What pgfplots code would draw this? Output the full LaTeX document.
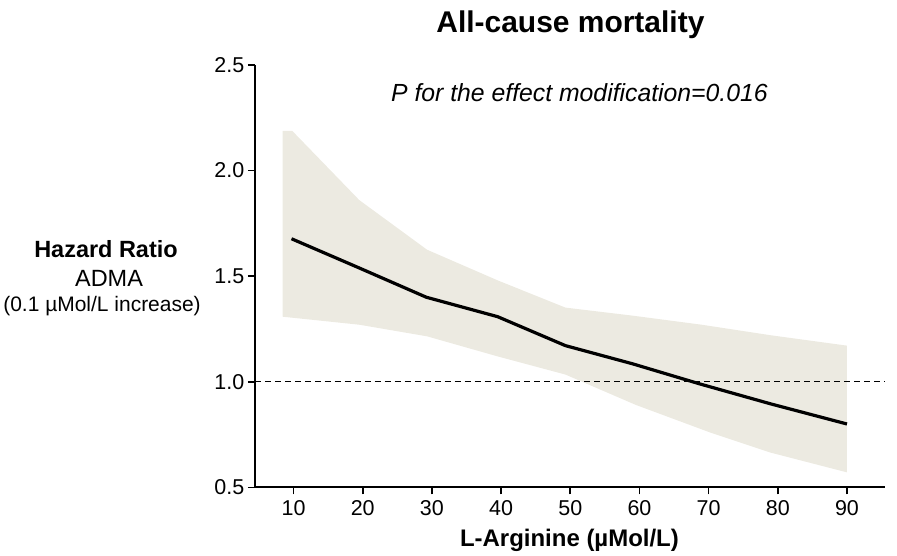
\documentclass[border=0pt]{standalone}
\usepackage{pgfplots}
\pgfplotsset{compat=1.18}
\usepackage{fontspec}
\setmainfont{Liberation Sans}
\definecolor{ribbon}{RGB}{236,234,225}
\begin{document}
\begin{tikzpicture}
\begin{axis}[
  at={(0pt,0pt)}, anchor=south west,
  scale only axis,
  width=631pt, height=423pt,
  xmin=4.4, xmax=95.5,
  ymin=0.5, ymax=2.5,
  axis lines=left,
  axis line style={-, line width=1.8pt},
  tick align=outside,
  major tick length=7pt,
  tick style={line width=1.6pt, black},
  xtick={10,20,...,90},
  ytick={0.5,1.0,1.5,2.0,2.5},
  yticklabel style={/pgf/number format/fixed, /pgf/number format/fixed zerofill, /pgf/number format/precision=1},
  xticklabel style={yshift=-3pt},
  /pgf/number format/assume math mode=true,
  ticklabel style={font=\fontsize{21.5}{25}\selectfont},
  clip=false,
]
\addplot[fill=ribbon, draw=none] coordinates {
(8.4,2.188) (9.8,2.188) (19.5,1.86) (29.3,1.625) (39.5,1.48) (49.3,1.351)
(59,1.313) (69,1.27) (79,1.22) (90,1.171)
(90,0.571) (78.9,0.665) (70.2,0.76) (59.5,0.89) (49.3,1.034) (39.5,1.12)
(29.3,1.215) (19.5,1.27) (8.4,1.308)
} -- cycle;
\addplot[black, line width=1.3pt, dash pattern=on 6pt off 4pt] coordinates {(4.4,1) (95.5,1)};
\addplot[black, line width=3.2pt] coordinates {
(9.7,1.677) (19.4,1.54) (29.2,1.40) (39.5,1.308) (49.3,1.171)
(59,1.085) (68.7,0.99) (79,0.895) (90,0.80)
};
\end{axis}
\node[anchor=base, font=\fontsize{30}{34}\selectfont\bfseries] at (316pt,455pt) {All-cause mortality};
\node[anchor=base, font=\fontsize{24.8}{28}\selectfont\itshape] at (325pt,386pt) {P for the effect modification=0.016};
\node[anchor=base, font=\fontsize{24}{28}\selectfont\bfseries] at (315pt,-59pt) {L-Arginine (µMol/L)};
\node[anchor=base, font=\fontsize{23.5}{27}\selectfont\bfseries] at (-149pt,230pt) {Hazard Ratio};
\node[anchor=base, font=\fontsize{23.5}{27}\selectfont] at (-146pt,201pt) {ADMA};
\node[anchor=base, font=\fontsize{21}{24}\selectfont] at (-153pt,176pt) {(0.1 µMol/L increase)};
\path[use as bounding box] (-254pt,-68pt) rectangle (643pt,488pt);
\end{tikzpicture}
\end{document}
